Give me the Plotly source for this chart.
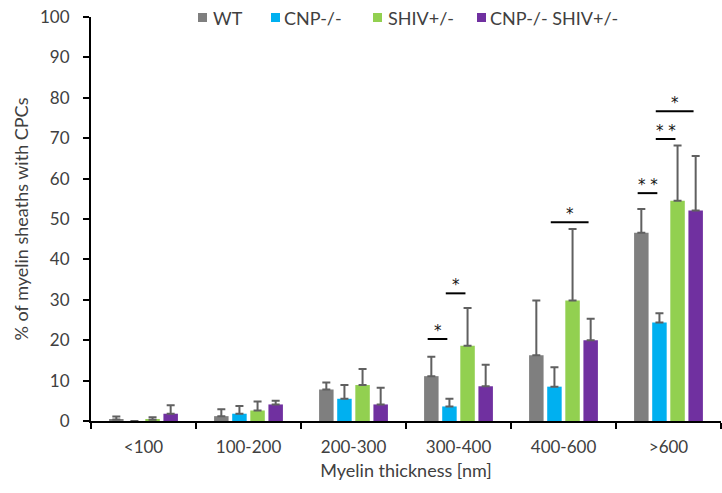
import plotly.graph_objects as go

categories = ["<100", "100-200", "200-300", "300-400", "400-600", ">600"]
series_names = ["WT", "CNP-/-", "SHIV+/-", "CNP-/- SHIV+/-"]
wt = [0.4, 1.2, 7.8, 11.1, 16.3, 46.6]
wt_err = [0.7, 1.7, 1.7, 4.8, 13.5, 5.9]
cnp = [0.0, 1.8, 5.5, 3.6, 8.5, 24.4]
cnp_err = [0.0, 1.9, 3.4, 1.9, 4.8, 2.3]
shiv = [0.3, 2.6, 8.9, 18.6, 29.8, 54.5]
shiv_err = [0.6, 2.2, 4.0, 9.4, 17.7, 13.7]
dko = [1.8, 4.1, 4.1, 8.6, 20.0, 52.1]
dko_err = [2.1, 0.9, 4.1, 5.3, 5.3, 13.5]
colors = ["#7f7f7f", "#00b0f0", "#92d050", "#7030a0"]

# significance brackets: (category index, from bar, to bar, y value, label)
sig = [
    (3, 0, 1, 20.3, "*"),
    (3, 1, 2, 31.6, "*"),
    (4, 1, 3, 49.2, "*"),
    (5, 0, 1, 56.4, "**"),
    (5, 1, 2, 69.8, "**"),
    (5, 1, 3, 76.7, "*"),
]

W, H = 722, 493
ML, MR, MT, MB = 91, 1, 17, 72
PW, PH = W - ML - MR, H - MT - MB
TXT = "#404040"
FONT = "Lato, Carlito, sans-serif"

fig = go.Figure()
for name, vals, errs, col in zip(series_names, [wt, cnp, shiv, dko],
                                 [wt_err, cnp_err, shiv_err, dko_err], colors):
    fig.add_trace(go.Bar(
        x=categories, y=vals, name=name,
        marker=dict(color=col, line=dict(width=0)),
        error_y=dict(type="data", array=errs, arrayminus=[0]*len(errs),
                     symmetric=False, color="#606060", thickness=2, width=4),
    ))

bargap = 0.31
slot = (1 - bargap) / 4
for ci, b0, b1, yv, lab in sig:
    x0 = ci - (1 - bargap) / 2 + slot * (b0 + 0.5) - 0.035
    x1 = ci - (1 - bargap) / 2 + slot * (b1 + 0.5) - 0.02
    fig.add_shape(type="line", xref="x", yref="y", x0=x0, x1=x1, y0=yv, y1=yv,
                  line=dict(color="black", width=2))
    fig.add_annotation(x=(x0 + x1) / 2, y=yv, xref="x", yref="y",
                       text=lab.replace("**", "* *"),
                       showarrow=False, yanchor="bottom", yshift=-3,
                       font=dict(size=15, color="#111111", family="DejaVu Sans"))

# manual legend (square + text), positions in window pixels
legend_sq_x = [198, 271, 373, 477]
legend_txt_x = [211, 282, 386, 488]
leg_y = 17.5


def px_x(px):
    return (px - ML) / PW


def px_y(py):
    return 1 - (py - MT) / PH


for name, col, sx, tx in zip(series_names, colors, legend_sq_x, legend_txt_x):
    fig.add_shape(type="rect", xref="paper", yref="paper",
                  x0=px_x(sx), x1=px_x(sx + 9),
                  y0=px_y(leg_y + 4.5), y1=px_y(leg_y - 4.5),
                  fillcolor=col, line=dict(width=0))
    fig.add_annotation(xref="paper", yref="paper", x=px_x(tx), y=px_y(leg_y),
                       text=name, showarrow=False, xanchor="left", yanchor="middle",
                       font=dict(size=18, color=TXT, family=FONT))

fig.update_layout(
    width=W, height=H,
    margin=dict(l=ML, r=MR, t=MT, b=MB, autoexpand=False),
    barmode="group", bargap=bargap, bargroupgap=0.2,
    plot_bgcolor="white", paper_bgcolor="white",
    font=dict(family=FONT, size=17, color=TXT),
    showlegend=False,
    xaxis=dict(
        type="category", categoryorder="array", categoryarray=categories,
        range=[-0.5, 5.5], showline=True, linecolor="black", linewidth=2,
        ticks="outside", tickson="boundaries", ticklen=6, tickwidth=2, tickcolor="black",
        ticklabelstandoff=10, ticklabeloverflow="allow",
        showgrid=False, zeroline=False,
        title=dict(text="Myelin thickness [nm]", standoff=8, font=dict(size=18, color=TXT)),
    ),
    xaxis2=dict(
        overlaying="x", range=[-0.5, 5.5], tickmode="array",
        tickvals=[-0.5, 0.5, 1.5, 2.5, 3.5, 4.5, 5.5], ticks="inside", ticklen=6,
        tickwidth=2, tickcolor="black", showticklabels=False, showline=False,
        showgrid=False, zeroline=False, side="bottom",
    ),
    yaxis=dict(
        range=[0, 100], dtick=10, showline=True, linecolor="black", linewidth=2,
        ticks="outside", ticklen=6, tickwidth=2, tickcolor="black",
        ticklabelstandoff=10, ticklabeloverflow="allow",
        showgrid=False, zeroline=False,
        title=dict(text="% of myelin sheaths with CPCs", standoff=7, font=dict(size=18, color=TXT)),
    ),
    yaxis2=dict(
        overlaying="y", range=[0, 100], dtick=10, ticks="inside", ticklen=6,
        tickwidth=2, tickcolor="black", showticklabels=False, showline=False,
        showgrid=False, zeroline=False, side="left",
    ),
)

# remove the browser's default 8px body margin so the figure fills the window
fig.write_html("out.html", config={"displayModeBar": False},
               post_script="document.body.style.margin='0';")
